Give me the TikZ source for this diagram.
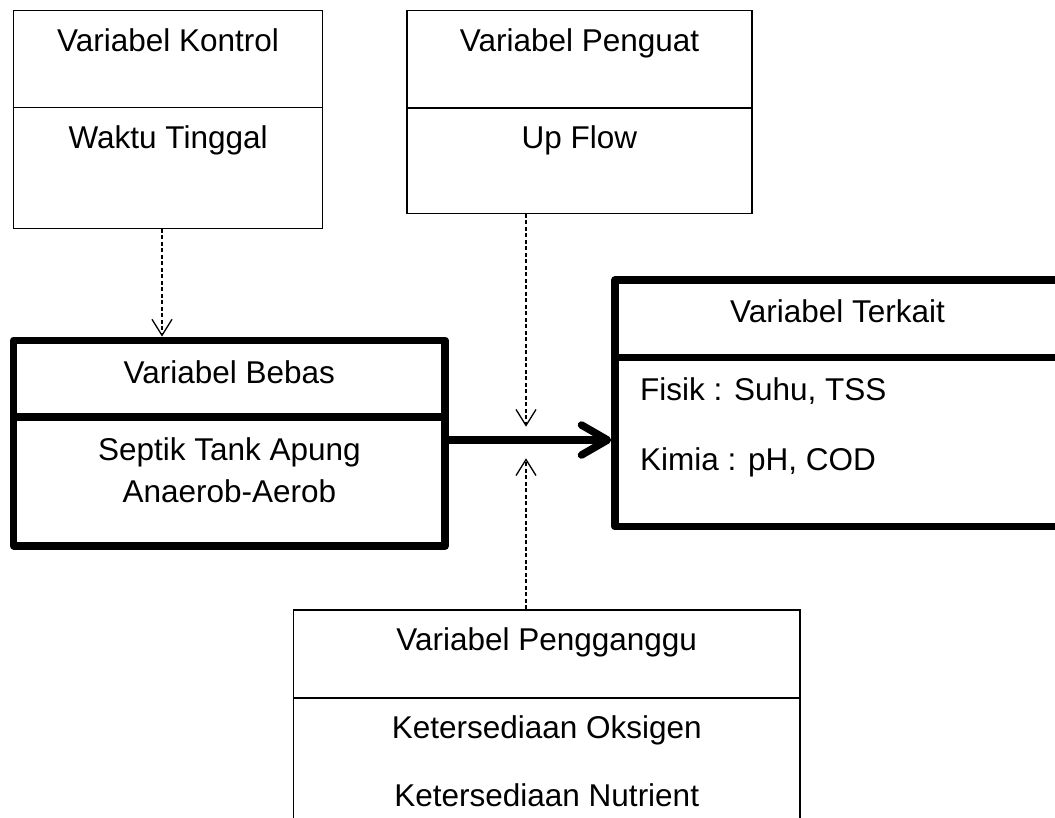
\documentclass[tikz,border=0pt]{standalone}
\usepackage{fontspec}
\setmainfont{Liberation Sans}
\usetikzlibrary{arrows.meta}
\begin{document}
\begin{tikzpicture}[x=1pt,y=-1pt,
  every node/.style={font=\fontsize{31.5}{38}\selectfont, inner sep=0pt},
  thinbox/.style={draw=black, line width=1.3pt, rectangle},
  thickbox/.style={draw=black, line width=7.5pt, rectangle, line join=round},
  thindiv/.style={draw=black, line width=1.3pt},
  thickdiv/.style={draw=black, line width=7.5pt},
  lbl/.style={anchor=base},
  lblw/.style={anchor=base west},
  dasharrow/.style={line width=1.3pt, dash pattern=on 4pt off 2.5pt, -{Straight Barb[length=16pt,width=20pt]}},
  mainarrow/.style={line width=7.5pt, line cap=round, -{Straight Barb[length=26pt,width=30pt,round]}}
]
\clip (0,0) rectangle (1055,817);
\fill[white] (0,0) rectangle (1055,817);

% boxes
\node[thinbox, minimum width=309.2pt, minimum height=217.6pt] (kon) at (168.1,119.5) {};
\node[thinbox, minimum width=345pt, minimum height=202.6pt] (pen) at (579.5,112) {};
\node[thickbox, minimum width=431.3pt, minimum height=205.7pt] (beb) at (229.35,443.15) {};
\node[thickbox, minimum width=445pt, minimum height=246.7pt] (ter) at (837.5,403.35) {};
\node[thinbox, minimum width=506.5pt, minimum height=290pt] (ggu) at (546.75,755) {};

% dividers
\draw[thindiv] (kon.west |- 0,107.7) -- (kon.east |- 0,107.7);
\draw[thindiv] (pen.west |- 0,108) -- (pen.east |- 0,108);
\draw[thickdiv] (beb.west |- 0,417) -- (beb.east |- 0,417);
\draw[thickdiv] (ter.west |- 0,357.3) -- (ter.east |- 0,357.3);
\draw[thindiv] (ggu.west |- 0,698) -- (ggu.east |- 0,698);

% texts
\node[lbl] (konT) at (168.1,51.7) {Variabel Kontrol};
\node[lbl] (konB) at (168.1,148.3) {Waktu Tinggal};
\node[lbl] (penT) at (579.5,51.7) {Variabel Penguat};
\node[lbl] (penB) at (579.5,148.3) {Up Flow};
\node[lbl] (bebT) at (229.35,383.3) {Variabel Bebas};
\node[lbl] (bebB1) at (229.35,460) {Septik Tank Apung};
\node[lbl] (bebB2) at (229.35,502.7) {Anaerob-Aerob};
\node[lbl] (terT) at (837.5,322.7) {Variabel Terkait};
\node[lblw] (terB1) at (640,400) {Fisik : Suhu, TSS};
\node[lblw] (terB2) at (640,470.7) {Kimia : pH, COD};
\node[lbl] (gguT) at (546.75,650) {Variabel Pengganggu};
\node[lbl] (gguB1) at (546.75,738.3) {Ketersediaan Oksigen};
\node[lbl] (gguB2) at (546.75,806.7) {Ketersediaan Nutrient};

% connectors
\coordinate (gapTop) at (526,426.7);
\coordinate (gapBot) at (526,458.3);
\draw[mainarrow] (beb.east |- 0,440) -- (ter.west |- 0,440);
\draw[dasharrow] (kon.south -| 162,0) -- (beb.north -| 162,0);
\draw[dasharrow] (pen.south -| 526,0) -- (gapTop);
\draw[dasharrow] (ggu.north -| 526,0) -- (gapBot);
\end{tikzpicture}
\end{document}
